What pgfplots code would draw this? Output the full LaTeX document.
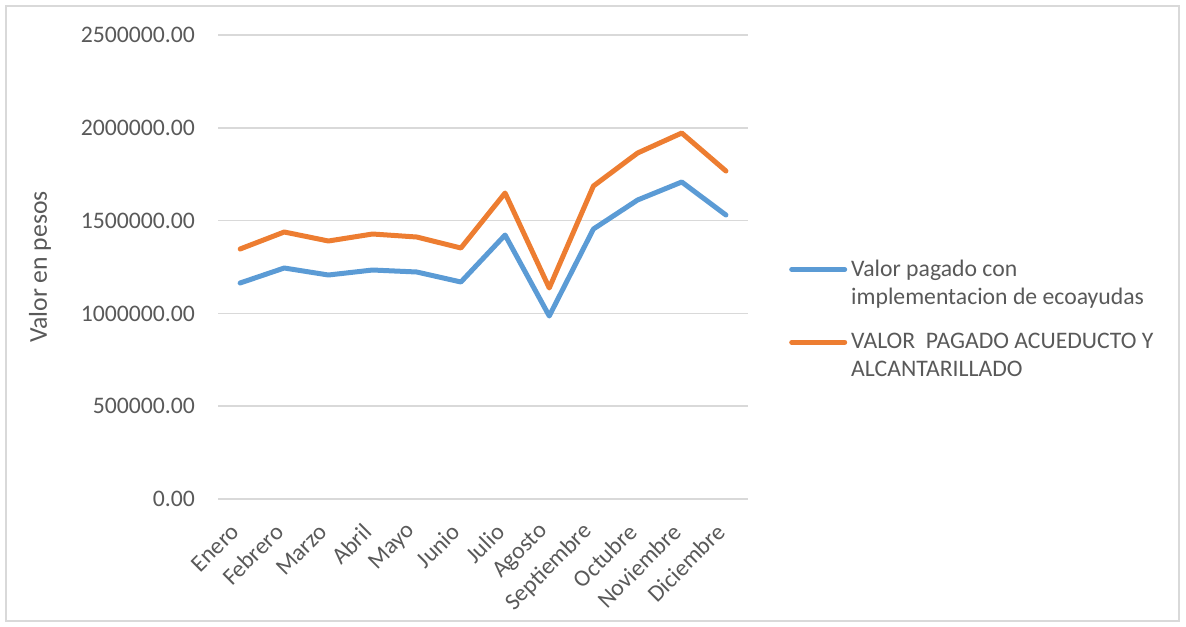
\documentclass[border=0pt]{standalone}
\usepackage{pgfplots}
\pgfplotsset{compat=1.18}
\usepackage{fontspec}
\setmainfont{Carlito}
\definecolor{serA}{HTML}{5B9BD5}
\definecolor{serB}{HTML}{ED7D31}
\definecolor{txt}{HTML}{595959}
\definecolor{grd}{HTML}{D9D9D9}

\begin{document}
\begin{tikzpicture}
\path (0bp,0bp) rectangle (593bp,-313.5bp);
\draw[grd, line width=0.8bp] (3bp,-3bp) rectangle (589.5bp,-310.5bp);
\begin{axis}[
    at={(109bp,-249.5bp)}, anchor=south west,
    scale only axis, width=265bp, height=232bp,
    xmin=-0.5, xmax=11.5, ymin=0, ymax=2500000,
    xtick={0,...,11},
    xticklabels={Enero,Febrero,Marzo,Abril,Mayo,Junio,Julio,Agosto,Septiembre,Octubre,Noviembre,Diciembre},
    ytick={0,500000,1000000,1500000,2000000,2500000},
    scaled y ticks=false,
    yticklabel style={/pgf/number format/.cd, fixed, fixed zerofill, precision=2, 1000 sep={}, assume math mode=true},
    ticklabel style={font=\fontsize{11.9}{14}\selectfont, text=txt},
    xticklabel style={rotate=45, anchor=east},
    xticklabel shift=12bp,
    yticklabel shift=8bp,
    major tick length=0pt,
    axis line style={draw=none},
    ymajorgrids, grid style={grd, line width=0.8bp},
    ylabel={Valor en pesos},
    ylabel style={at={(axis description cs:-0.336,0.5)}, anchor=center, rotate=0, font=\fontsize{12.9}{15}\selectfont, text=txt},
    legend style={at={(1.077,0.525)}, anchor=north west, draw=none, fill=none, inner sep=0pt,
        font=\fontsize{11.9}{14}\selectfont, text=txt, cells={align=left}, row sep=9bp},
    legend cell align=left,
    legend image code/.code={\path (0bp,-7bp); \draw[#1, line cap=round] (0bp,7bp) -- (26.5bp,7bp);},
]
\addplot[serA, line width=2.5bp, line join=round, line cap=round] coordinates {
(0,1163800) (1,1244600) (2,1206900) (3,1233800) (4,1223100) (5,1169200)
(6,1422400) (7,986000) (8,1454700) (9,1611000) (10,1708000) (11,1530200)};
\addlegendentry{Valor pagado con\\implementacion de ecoayudas}
\addplot[serB, line width=2.5bp, line join=round, line cap=round] coordinates {
(0,1347000) (1,1438600) (2,1390100) (3,1427800) (4,1411600) (5,1352400)
(6,1648700) (7,1136900) (8,1686400) (9,1864200) (10,1972000) (11,1767200)};
\addlegendentry{VALOR\ \ PAGADO ACUEDUCTO Y\\ALCANTARILLADO}
\end{axis}
\end{tikzpicture}
\end{document}
